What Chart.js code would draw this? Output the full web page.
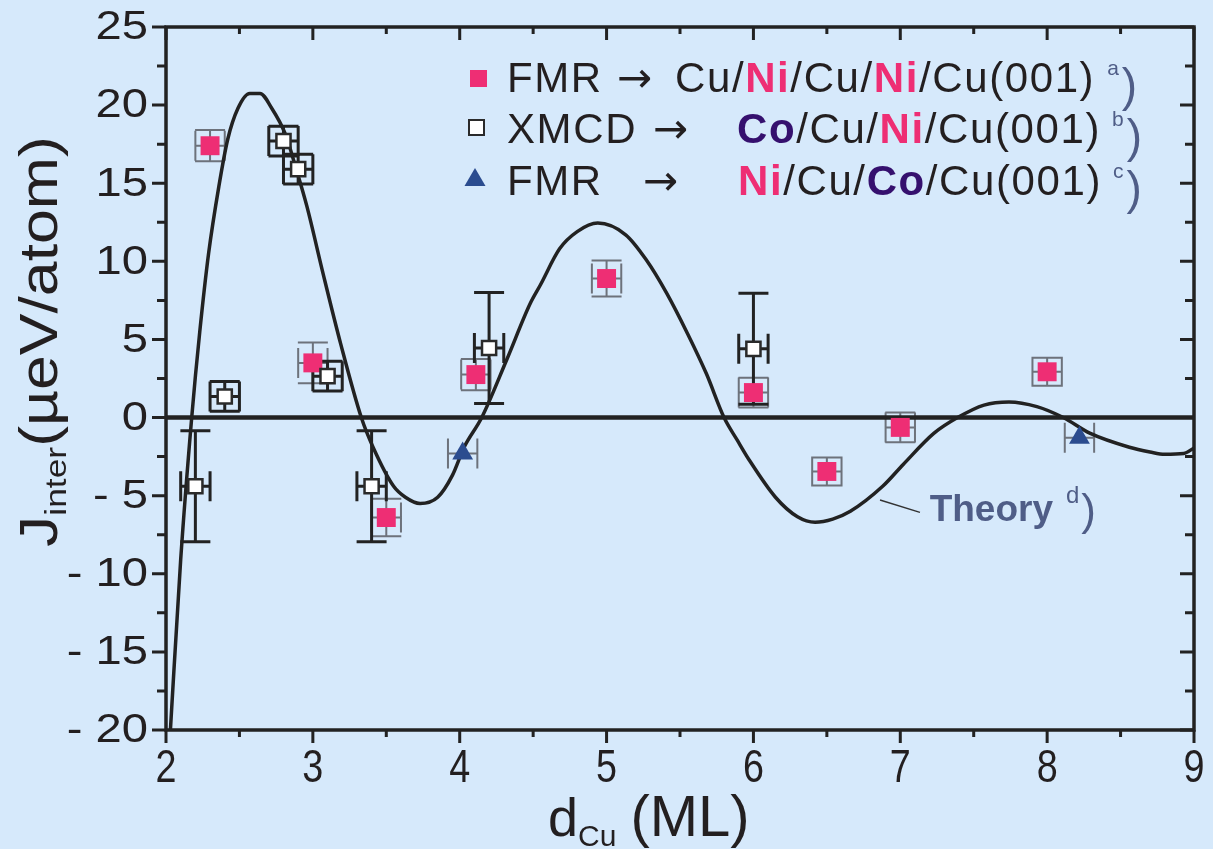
<!DOCTYPE html>
<html>
<head>
<meta charset="utf-8">
<script src="https://cdn.jsdelivr.net/npm/chart.js@4.4.1/dist/chart.umd.min.js"></script>
<style>
  html, body { margin: 0; padding: 0; background: #d6e9fb; }
  #wrap { width: 1213px; height: 849px; position: relative; }
</style>
</head>
<body>
<div id="wrap"><canvas id="chart"></canvas></div>
<script>
/* global Chart */

// theory curve
const theoryX = [2.03, 2.1, 2.175, 2.23, 2.29, 2.36, 2.42, 2.49, 2.57, 2.64, 2.72, 2.81, 2.89, 2.96, 3.07, 3.19,
    3.33, 3.41, 3.55, 3.63, 3.73, 3.85, 3.95, 4.03, 4.15, 4.32, 4.48, 4.55, 4.68, 4.8, 4.94, 5.13, 5.27, 5.41,
    5.55, 5.68, 5.8, 5.89, 5.97, 6.15, 6.3, 6.42, 6.54, 6.66, 6.88, 7.02, 7.23, 7.39, 7.57, 7.74, 7.93, 8.11,
    8.29, 8.56, 8.7, 8.8, 8.93, 9.0];
const theoryY = [-20, -9.1, 0, 5.5, 10.5, 14.8, 17.8, 19.8, 20.75, 20.75, 19.8, 18.2, 15.8, 13.5, 9.2, 4.7,
    0, -1.9, -4.4, -5.1, -5.5, -5.1, -3.7, -1.9, 0, 3.7, 7.3, 8.5, 10.8, 11.9, 12.45, 11.7, 10.1, 7.95,
    5.4, 2.8, 0, -1.45, -2.7, -5.1, -6.35, -6.7, -6.5, -6.0, -4.4, -3.0, -1.0, 0, 0.8, 1.0, 0.7, 0,
    -1.0, -1.9, -2.2, -2.35, -2.3, -1.95];

// FMR Cu/Ni/Cu/Ni/Cu(001)
const fmrX = [2.3, 3.0, 3.5, 4.11, 5.0, 6.0, 6.5, 7.0, 8.0];
const fmrY = [17.4, 3.5, -6.4, 2.75, 8.9, 1.6, -3.45, -0.63, 2.93];
const fmrXErr = [0.1, 0.1, 0.1, 0.1, 0.1, 0.1, 0.1, 0.1, 0.1];
const fmrYErr = [1.0, 1.3, 1.2, 1.0, 1.15, 0.95, 0.9, 0.95, 0.9];

// XMCD Co/Cu/Ni/Cu(001)
const xmcdX = [2.2, 2.4, 2.8, 2.9, 3.1, 3.4, 4.2, 6.0];
const xmcdY = [-4.4, 1.35, 17.7, 15.9, 2.65, -4.4, 4.45, 4.4];
const xmcdXErr = [0.1, 0.1, 0.1, 0.1, 0.1, 0.1, 0.1, 0.1];
const xmcdYErr = [3.55, 0.95, 0.95, 0.95, 0.95, 3.55, 3.55, 3.55];

// FMR Ni/Cu/Co/Cu(001)
const triX = [4.02, 8.22];
const triY = [-2.3, -1.3];
const triXErr = [0.1, 0.1];
const triYErr = [0, 0];

const xMin = 2, xMax = 9, yMin = -20, yMax = 25;

const INK = "#231f20";
const PINK = "#ee2e74";
const PURPLE = "#35106e";
const NAVY = "#2b4c8f";
const SLATE = "#4f5d87";
const FONT = '"Liberation Sans", Arial, sans-serif';

function points(xs, ys) {
    return xs.map((x, i) => ({ x: x, y: ys[i] }));
}

function drawErrorBars(ctx, sx, sy, xs, ys, ex, ey, color, width) {
    const cap = 15;
    ctx.save();
    ctx.strokeStyle = color;
    ctx.lineWidth = width;
    for (let i = 0; i < xs.length; i++) {
        let px = sx.getPixelForValue(xs[i]);
        let py = sy.getPixelForValue(ys[i]);
        let x0 = sx.getPixelForValue(xs[i] - ex[i]);
        let x1 = sx.getPixelForValue(xs[i] + ex[i]);
        ctx.beginPath();
        ctx.moveTo(x0, py); ctx.lineTo(x1, py);
        ctx.moveTo(x0, py - cap); ctx.lineTo(x0, py + cap);
        ctx.moveTo(x1, py - cap); ctx.lineTo(x1, py + cap);
        if (ey[i] > 0) {
            let y0 = sy.getPixelForValue(ys[i] - ey[i]);
            let y1 = sy.getPixelForValue(ys[i] + ey[i]);
            ctx.moveTo(px, y0); ctx.lineTo(px, y1);
            ctx.moveTo(px - cap, y0); ctx.lineTo(px + cap, y0);
            ctx.moveTo(px - cap, y1); ctx.lineTo(px + cap, y1);
        }
        ctx.stroke();
    }
    ctx.restore();
}

// text made of pieces with their own font / colour / vertical shift
function drawRich(ctx, x, y, parts, spacing) {
    for (const p of parts) {
        if (p.at !== undefined) x = p.at;
        ctx.font = p.font;
        ctx.fillStyle = p.color || INK;
        let sp = p.plain ? 0 : (spacing || 0);
        for (const ch of p.t) {
            ctx.fillText(ch, x, y + (p.dy || 0));
            x += ctx.measureText(ch).width + sp;
        }
        x += (p.gap || 0);
    }
}

const reg = "42px " + FONT;
const bold = "bold 42px " + FONT;
const sup = "21px " + FONT;
const paren = "46px " + FONT;
const arrow = "42px \"DejaVu Sans\", sans-serif";

const legendRows = [
    [{ t: "FMR", font: reg, at: 507 }, { t: "\u2192", font: arrow, at: 617 },
     { t: "Cu/", font: reg, at: 675 }, { t: "Ni", font: bold, color: PINK }, { t: "/Cu/", font: reg },
     { t: "Ni", font: bold, color: PINK }, { t: "/Cu(001)", font: reg, gap: 12 },
     { t: "a", font: sup, color: SLATE, dy: -17, gap: 3, plain: true }, { t: ")", font: paren, color: SLATE, dy: 9, plain: true }],
    [{ t: "XMCD", font: reg, at: 507 }, { t: "\u2192", font: arrow, at: 653 },
     { t: "Co", font: bold, color: PURPLE, at: 737 }, { t: "/Cu/", font: reg },
     { t: "Ni", font: bold, color: PINK }, { t: "/Cu(001)", font: reg, gap: 11 },
     { t: "b", font: sup, color: SLATE, dy: -17, gap: 3, plain: true }, { t: ")", font: paren, color: SLATE, dy: 9, plain: true }],
    [{ t: "FMR", font: reg, at: 507 }, { t: "\u2192", font: arrow, at: 643 },
     { t: "Ni", font: bold, color: PINK, at: 738 }, { t: "/Cu/", font: reg },
     { t: "Co", font: bold, color: PURPLE }, { t: "/Cu(001)", font: reg, gap: 11 },
     { t: "c", font: sup, color: SLATE, dy: -17, gap: 3, plain: true }, { t: ")", font: paren, color: SLATE, dy: 9, plain: true }]
];
const legendBase = [92, 143, 195];

const decor = {
    id: "decor",
    beforeDraw(chart) {
        const ctx = chart.ctx;
        ctx.save();
        ctx.fillStyle = "#d6e9fb";
        ctx.fillRect(0, 0, chart.width, chart.height);
        ctx.restore();
    },
    beforeDatasetsDraw(chart) {
        const { ctx, chartArea: a, scales: { x, y } } = chart;
        drawErrorBars(ctx, x, y, fmrX, fmrY, fmrXErr, fmrYErr, "#6d727b", 2);
        drawErrorBars(ctx, x, y, triX, triY, triXErr, triYErr, "#6d727b", 2);
        drawErrorBars(ctx, x, y, xmcdX, xmcdY, xmcdXErr, xmcdYErr, "#222", 3);

        let y0 = y.getPixelForValue(0);
        ctx.save();
        ctx.strokeStyle = "#222";
        ctx.lineWidth = 4.5;
        ctx.beginPath();
        ctx.moveTo(a.left, y0);
        ctx.lineTo(a.right, y0);
        ctx.stroke();
        ctx.restore();
    },
    afterDraw(chart) {
        const { ctx, chartArea: a, scales: { x, y } } = chart;
        ctx.save();

        // frame
        ctx.strokeStyle = "#222";
        ctx.lineWidth = 3.5;
        ctx.strokeRect(a.left, a.top, a.right - a.left, a.bottom - a.top);

        // ticks: outward on left/bottom, inward on right/top
        ctx.lineWidth = 3;
        ctx.beginPath();
        for (const t of x.ticks) {
            let px = x.getPixelForValue(t.value);
            let len = Number.isInteger(t.value) ? 13 : 7;
            ctx.moveTo(px, a.bottom); ctx.lineTo(px, a.bottom + len);
            ctx.moveTo(px, a.top); ctx.lineTo(px, a.top + len);
        }
        for (const t of y.ticks) {
            let py = y.getPixelForValue(t.value);
            let len = t.value % 5 === 0 ? 14 : 9;
            ctx.moveTo(a.left, py); ctx.lineTo(a.left - len, py);
            ctx.moveTo(a.right, py); ctx.lineTo(a.right - len, py);
        }
        ctx.stroke();

        // tick labels
        ctx.fillStyle = INK;
        ctx.font = "46px " + FONT;
        ctx.textAlign = "center";
        ctx.textBaseline = "alphabetic";
        for (const t of x.ticks) {
            if (!Number.isInteger(t.value)) continue;
            let px = x.getPixelForValue(t.value);
            ctx.save();
            ctx.translate(px, a.bottom + 52);
            ctx.scale(0.82, 1);
            ctx.fillText(String(t.value), 0, 0);
            ctx.restore();
        }
        ctx.font = "41px " + FONT;
        ctx.textAlign = "right";
        ctx.textBaseline = "middle";
        for (const t of y.ticks) {
            if (t.value % 5 !== 0) continue;
            let py = y.getPixelForValue(t.value);
            let s = t.value < 0 ? "- " + Math.abs(t.value) : String(t.value);
            ctx.save();
            ctx.translate(a.left - 18, py + 1);
            ctx.scale(1.15, 1);
            ctx.fillText(s, 0, 0);
            ctx.restore();
        }

        // x title: d_Cu (ML)
        ctx.textAlign = "left";
        ctx.textBaseline = "alphabetic";
        drawRich(ctx, 548, 836, [
            { t: "d", font: "54px " + FONT },
            { t: "Cu", font: "30px " + FONT, dy: 10, gap: 14 },
            { t: "(ML)", font: "58px " + FONT }
        ]);

        // y title: J_inter(µeV/atom), rotated
        ctx.save();
        ctx.translate(57, 547);
        ctx.rotate(-Math.PI / 2);
        ctx.scale(1.18, 1);
        drawRich(ctx, 0, 0, [
            { t: "J", font: "53px " + FONT },
            { t: "inter", font: "30px " + FONT, dy: 9 },
            { t: "(\u00b5eV/atom)", font: "53px " + FONT }
        ]);
        ctx.restore();

        // legend
        ctx.fillStyle = PINK;
        ctx.fillRect(470, 70, 17, 17);
        ctx.fillStyle = "#fff";
        ctx.strokeStyle = "#2a2a2a";
        ctx.lineWidth = 2;
        ctx.fillRect(469, 120, 15, 15);
        ctx.strokeRect(469, 120, 15, 15);
        ctx.fillStyle = NAVY;
        ctx.beginPath();
        ctx.moveTo(475, 168); ctx.lineTo(485.5, 186); ctx.lineTo(464.5, 186);
        ctx.closePath();
        ctx.fill();
        for (let i = 0; i < legendRows.length; i++) {
            drawRich(ctx, 507, legendBase[i], legendRows[i], 1.6);
        }

        // theory label with leader line
        ctx.strokeStyle = "#333";
        ctx.lineWidth = 1.5;
        ctx.beginPath();
        ctx.moveTo(x.getPixelForValue(6.862), y.getPixelForValue(-5.28));
        ctx.lineTo(x.getPixelForValue(7.134), y.getPixelForValue(-6.07));
        ctx.stroke();
        drawRich(ctx, x.getPixelForValue(7.2), y.getPixelForValue(-6.63), [
            { t: "Theory", font: "bold 37px " + FONT, color: SLATE, gap: 13 },
            { t: "d", font: "24px " + FONT, color: SLATE, dy: -18, gap: 2 },
            { t: ")", font: "44px " + FONT, color: SLATE, dy: 4 }
        ]);

        ctx.restore();
    }
};

new Chart(document.getElementById("chart"), {
    type: "scatter",
    data: {
        datasets: [
            {
                label: "FMR Ni/Cu/Co/Cu(001)",
                data: points(triX, triY),
                pointStyle: "triangle",
                pointRadius: 12,
                pointBorderWidth: 0,
                backgroundColor: NAVY
            },
            {
                label: "XMCD Co/Cu/Ni/Cu(001)",
                data: points(xmcdX, xmcdY),
                pointStyle: "rect",
                pointRadius: 10,
                pointBorderWidth: 2.5,
                backgroundColor: "#ffffff",
                borderColor: "#2a2a2a"
            },
            {
                label: "FMR Cu/Ni/Cu/Ni/Cu(001)",
                data: points(fmrX, fmrY),
                pointStyle: "rect",
                pointRadius: 13.4,
                pointBorderWidth: 0,
                backgroundColor: PINK
            },
            {
                label: "Theory",
                data: points(theoryX, theoryY),
                showLine: true,
                borderColor: "#222",
                borderWidth: 3.5,
                pointRadius: 0,
                cubicInterpolationMode: "monotone",
                fill: false
            }
        ]
    },
    options: {
        responsive: true,
        maintainAspectRatio: false,
        animation: false,
        events: [],
        layout: { padding: { left: 0, top: 27, right: 19, bottom: 0 } },
        plugins: {
            legend: { display: false },
            tooltip: { enabled: false }
        },
        scales: {
            x: {
                type: "linear",
                min: xMin,
                max: xMax,
                ticks: { stepSize: 0.5, display: false },
                grid: { display: false },
                border: { display: false },
                afterFit: (s) => { s.height = 119; }
            },
            y: {
                type: "linear",
                min: yMin,
                max: yMax,
                ticks: { stepSize: 2.5, display: false },
                grid: { display: false },
                border: { display: false },
                afterFit: (s) => { s.width = 166; }
            }
        }
    },
    plugins: [decor]
});
</script>
</body>
</html>
